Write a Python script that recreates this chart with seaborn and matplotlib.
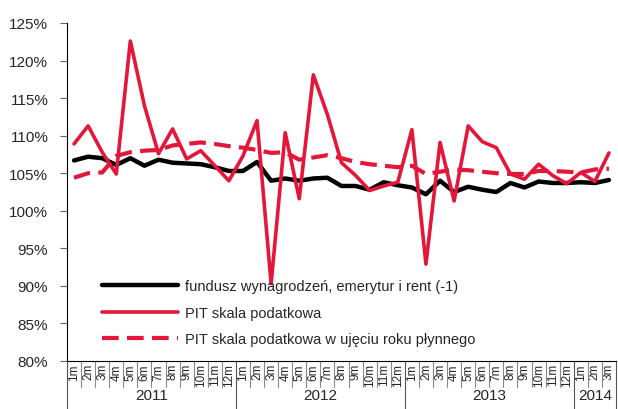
import numpy as np
import pandas as pd
import matplotlib
matplotlib.use("Agg")
import matplotlib.pyplot as plt
import matplotlib.transforms as mtransforms
from matplotlib.ticker import FuncFormatter
import seaborn as sns

# ---- data (index, %) ----
years = ["2011", "2012", "2013", "2014"]
months_per_year = [12, 12, 12, 3]
month_labels = [f"{m}m" for n in months_per_year for m in range(1, n + 1)]

fundusz = [106.7, 107.2, 107.0, 106.1, 107.0, 106.0, 106.8, 106.4, 106.3, 106.2, 105.8, 105.3,
           105.3, 106.5, 104.0, 104.3, 104.0, 104.3, 104.4, 103.3, 103.3, 102.8, 103.8, 103.4,
           103.1, 102.2, 104.0, 102.5, 103.2, 102.8, 102.5, 103.7, 103.1, 103.9, 103.7, 103.7,
           103.8, 103.7, 104.1]
pit = [108.9, 111.3, 107.8, 104.9, 122.6, 114.0, 107.6, 110.9, 106.9, 108.0, 106.0, 104.0,
       107.3, 112.0, 90.3, 110.4, 101.6, 118.1, 112.8, 106.4, 104.7, 102.7, 103.3, 103.8,
       110.8, 92.9, 109.1, 101.3, 111.3, 109.2, 108.4, 104.9, 104.2, 106.2, 104.7, 103.6,
       105.1, 103.9, 107.7]
pit_roll = [104.4, 105.0, 105.1, 107.3, 107.8, 108.0, 108.1, 108.7, 108.9, 109.1, 108.9, 108.6,
            108.4, 108.1, 107.7, 107.8, 106.8, 107.1, 107.4, 107.0, 106.5, 106.2, 106.0, 105.8,
            106.0, 104.9, 105.2, 105.5, 105.4, 105.2, 105.0, 104.9, 104.9, 105.3, 105.3, 105.2,
            105.1, 105.5, 105.6]

labels = ["fundusz wynagrodzeń, emerytur i rent (-1)",
          "PIT skala podatkowa",
          "PIT skala podatkowa w ujęciu roku płynnego"]

df = pd.DataFrame({"x": np.arange(len(month_labels)),
                   "fundusz": fundusz, "pit": pit, "pit_roll": pit_roll})

# ---- style ----
sns.set_style("white")
plt.rcParams["font.family"] = ["Liberation Sans", "DejaVu Sans"]

RED = "#E4173A"

fig = plt.figure(figsize=(6.18, 4.10), dpi=100)
ax = fig.add_axes([67 / 618, 48 / 410, 549 / 618, 338 / 410])

sns.lineplot(data=df, x="x", y="fundusz", ax=ax, color="black", linewidth=3.2,
             label=labels[0], sort=False)
sns.lineplot(data=df, x="x", y="pit", ax=ax, color=RED, linewidth=2.6,
             label=labels[1], sort=False)
sns.lineplot(data=df, x="x", y="pit_roll", ax=ax, color=RED, linewidth=3.0,
             label=labels[2], sort=False)
ax.lines[2].set_dashes((4, 2))

ax.set_xlim(-0.5, len(month_labels) - 0.5)
ax.set_ylim(80, 125)
ax.set_yticks(np.arange(80, 126, 5))
ax.yaxis.set_major_formatter(FuncFormatter(lambda v, p: f"{v:.0f}%"))
ax.tick_params(axis="y", which="both", left=True, length=5, width=0.8, color="#666666",
               labelsize=11, pad=8.5)
ax.set_xlabel("")
ax.set_ylabel("")

ax.set_xticks(df["x"])
ax.set_xticklabels(month_labels, rotation=90, fontsize=8.5)
ax.tick_params(axis="x", length=0, pad=1.5)

for side in ["top", "right"]:
    ax.spines[side].set_visible(False)
for side in ["left", "bottom"]:
    ax.spines[side].set_color("black")
    ax.spines[side].set_linewidth(0.8)

# ---- multi-level category separators ----
trans = mtransforms.blended_transform_factory(ax.transData, ax.transAxes)
bounds = np.cumsum([0] + months_per_year) - 0.5
for k in range(len(month_labels) + 1):
    xk = k - 0.5
    if xk in bounds:
        ax.plot([xk, xk], [0, -0.145], transform=trans, color="#555555", lw=0.8, clip_on=False)
    else:
        ax.plot([xk, xk], [0, -0.077], transform=trans, color="#888888", lw=0.8, clip_on=False)
for i, yr in enumerate(years):
    mid = (bounds[i] + bounds[i + 1]) / 2
    ax.text(mid, -0.102, yr, transform=trans, ha="center", va="center", fontsize=11)

leg = ax.legend(loc="lower left", bbox_to_anchor=(0.064, 0.043), frameon=False,
                fontsize=10.5, handlelength=5.2, handletextpad=0.5, labelspacing=0.86,
                borderpad=0, borderaxespad=0)

fig.savefig("out.png", dpi=100)
